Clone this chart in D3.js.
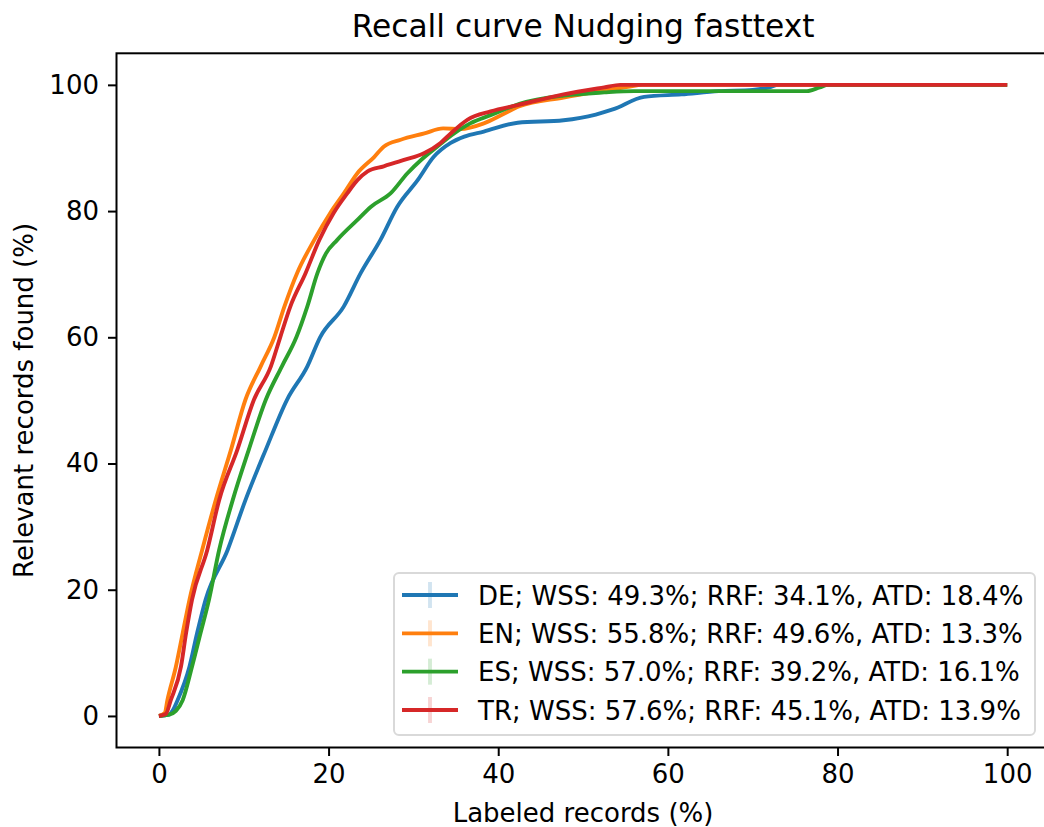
<!DOCTYPE html>
<html>
<head>
<meta charset="utf-8">
<script src="https://cdn.jsdelivr.net/npm/d3@7"></script>
<style>
  html, body { margin: 0; padding: 0; background: #fff; }
  svg { display: block; font-family: "DejaVu Sans", sans-serif; }
</style>
</head>
<body>
<svg id="chart" width="1044" height="827"></svg>
<script>
// ---- Data ----
const title = "Recall curve Nudging fasttext";
const xLabel = "Labeled records (%)";
const yLabel = "Relevant records found (%)";
const tickValues = [0, 20, 40, 60, 80, 100];

const seriesNames = ["DE", "EN", "ES", "TR"];
const legendLabels = [
  "DE; WSS: 49.3%; RRF: 34.1%, ATD: 18.4%",
  "EN; WSS: 55.8%; RRF: 49.6%, ATD: 13.3%",
  "ES; WSS: 57.0%; RRF: 39.2%, ATD: 16.1%",
  "TR; WSS: 57.6%; RRF: 45.1%, ATD: 13.9%"
];
const colors = ["#1f77b4", "#ff7f0e", "#2ca02c", "#d62728"];

const deX = [0, 1.2, 1.6, 2.2, 3.6, 4.5, 5.5, 8.1, 10.2, 12.6, 15.1, 17.5, 19.0, 21.8, 23.8, 26.1, 28.1, 30.5, 32.4, 34.4, 36.0, 38.3, 42.3, 47.7, 51.5, 53.5, 57.2, 61.6, 66, 70, 72, 73, 100];
const deY = [0, 0.2, 0.8, 2.5, 7.8, 13.1, 18.4, 26.3, 34.2, 42.2, 50.1, 55.4, 60, 64.9, 70.2, 75.4, 80.7, 84.9, 88.6, 90.8, 91.8, 92.6, 94, 94.4, 95.3, 96.1, 98.1, 98.5, 99, 99.2, 99.6, 100, 100];

const enX = [0, 0.7, 1.0, 2.0, 2.8, 3.6, 5.1, 6.7, 8.5, 10.2, 12.0, 13.6, 14.8, 16.3, 18.3, 20.2, 21.8, 23.4, 25.4, 26.5, 28.5, 31.3, 33.5, 35.5, 38.3, 40.5, 42.5, 47.7, 52.5, 55.3, 57, 100];
const enY = [0, 0.5, 2.5, 7.8, 13.1, 18.4, 26.3, 34.2, 42.2, 50.1, 55.4, 60, 64.9, 70.2, 75.4, 79.7, 82.8, 86, 88.6, 90.2, 91.3, 92.3, 93.1, 93.0, 93.9, 95.3, 96.6, 98, 99.1, 99.7, 100, 100];

const esX = [0, 1.2, 2, 2.8, 3.9, 4.9, 5.9, 7.1, 8.7, 10.6, 12.6, 14.5, 16.2, 17.5, 18.7, 19.7, 21.0, 23.4, 25.0, 27.3, 29.3, 30.9, 32.8, 34.8, 36.7, 39.1, 42.5, 47.7, 52.5, 56, 76.4, 77.9, 78.9, 100];
const esY = [0, 0.2, 0.8, 2.5, 7.8, 13.1, 18.4, 26.3, 34.2, 42.2, 50.1, 55.4, 60, 64.9, 70.2, 73.3, 75.4, 78.6, 80.7, 82.8, 86, 88.1, 90.2, 92.3, 93.9, 95.2, 97, 98.3, 98.8, 99, 99, 99.6, 100, 100];

const trX = [0, 0.8, 1.4, 2.6, 3.2, 3.9, 5.7, 7.1, 9.25, 11.2, 13.2, 14.3, 15.5, 17.3, 18.9, 20.6, 22.2, 23.4, 24.6, 26.5, 28.9, 31.3, 33.2, 34.4, 36.4, 39.1, 42.3, 47.7, 52.5, 54.4, 100];
const trY = [0, 0.3, 2.5, 7.8, 13.1, 18.4, 26.3, 34.2, 42.2, 50.1, 55.4, 60, 64.9, 70.2, 75.4, 79.7, 82.8, 84.9, 86.3, 87.1, 88.1, 89.2, 90.8, 92.3, 94.5, 95.8, 96.8, 98.5, 99.6, 100, 100];

const seriesX = [deX, enX, esX, trX];
const seriesY = [deY, enY, esY, trY];

// ---- Layout ----
const svg = d3.select("#chart");
const plotLeft = 116.5, plotRight = 1049.6, plotTop = 53.3, plotBottom = 747.5;

const x = d3.scaleLinear().domain([-5, 105]).range([plotLeft, plotRight]);
const y = d3.scaleLinear().domain([-5, 105]).range([plotBottom, plotTop]);

// Lines
const line = d3.line().x(d => x(d[0])).y(d => y(d[1])).curve(d3.curveMonotoneX);
seriesNames.forEach((name, i) => {
  const pts = seriesX[i].map((v, j) => [v, seriesY[i][j]]);
  svg.append("path")
    .datum(pts)
    .attr("fill", "none")
    .attr("stroke", colors[i])
    .attr("stroke-width", 3.9)
    .attr("stroke-linejoin", "round")
    .attr("stroke-linecap", "butt")
    .attr("d", line);
});

// Axes
const fontSize = 26;
const xAxis = d3.axisBottom(x).tickValues(tickValues).tickSize(8.5).tickPadding(9).tickSizeOuter(0);
const yAxis = d3.axisLeft(y).tickValues(tickValues).tickSize(8.5).tickPadding(9).tickSizeOuter(0);

const gx = svg.append("g").attr("transform", `translate(0,${plotBottom})`).call(xAxis);
const gy = svg.append("g").attr("transform", `translate(${plotLeft},0)`).call(yAxis);
[gx, gy].forEach(g => {
  g.select(".domain").remove();
  g.selectAll(".tick line").attr("stroke", "#000").attr("stroke-width", 2);
  g.selectAll(".tick text").attr("fill", "#000").style("font-size", fontSize + "px").style("font-family", "DejaVu Sans");
});

// Spines
svg.append("rect")
  .attr("x", plotLeft).attr("y", plotTop)
  .attr("width", plotRight - plotLeft).attr("height", plotBottom - plotTop)
  .attr("fill", "none").attr("stroke", "#000").attr("stroke-width", 2);

// Title and labels
svg.append("text")
  .attr("x", (plotLeft + plotRight) / 2).attr("y", 37)
  .attr("text-anchor", "middle")
  .style("font-size", "31.3px")
  .text(title);

svg.append("text")
  .attr("x", (plotLeft + plotRight) / 2).attr("y", 822)
  .attr("text-anchor", "middle")
  .style("font-size", fontSize + "px")
  .text(xLabel);

svg.append("text")
  .attr("transform", `translate(33,${(plotTop + plotBottom) / 2}) rotate(-90)`)
  .attr("text-anchor", "middle")
  .style("font-size", fontSize + "px")
  .text(yLabel);

// Legend
const lg = svg.append("g");
lg.append("rect")
  .attr("x", 394).attr("y", 573)
  .attr("width", 641).attr("height", 162)
  .attr("rx", 5).attr("ry", 5)
  .attr("fill", "#fff").attr("fill-opacity", 0.8)
  .attr("stroke", "#d9d9d9").attr("stroke-width", 2);

const rowY = d3.scaleLinear().domain([0, 3]).range([595, 710]);
legendLabels.forEach((lab, i) => {
  const cy = rowY(i);
  lg.append("line")
    .attr("x1", 430).attr("x2", 430)
    .attr("y1", cy - 13).attr("y2", cy + 13)
    .attr("stroke", colors[i]).attr("stroke-opacity", 0.2).attr("stroke-width", 3.9);
  lg.append("line")
    .attr("x1", 402).attr("x2", 458)
    .attr("y1", cy).attr("y2", cy)
    .attr("stroke", colors[i]).attr("stroke-width", 3.9);
  lg.append("text")
    .attr("x", 478).attr("y", cy + 9.5)
    .style("font-size", fontSize + "px")
    .text(lab);
});
</script>
</body>
</html>
